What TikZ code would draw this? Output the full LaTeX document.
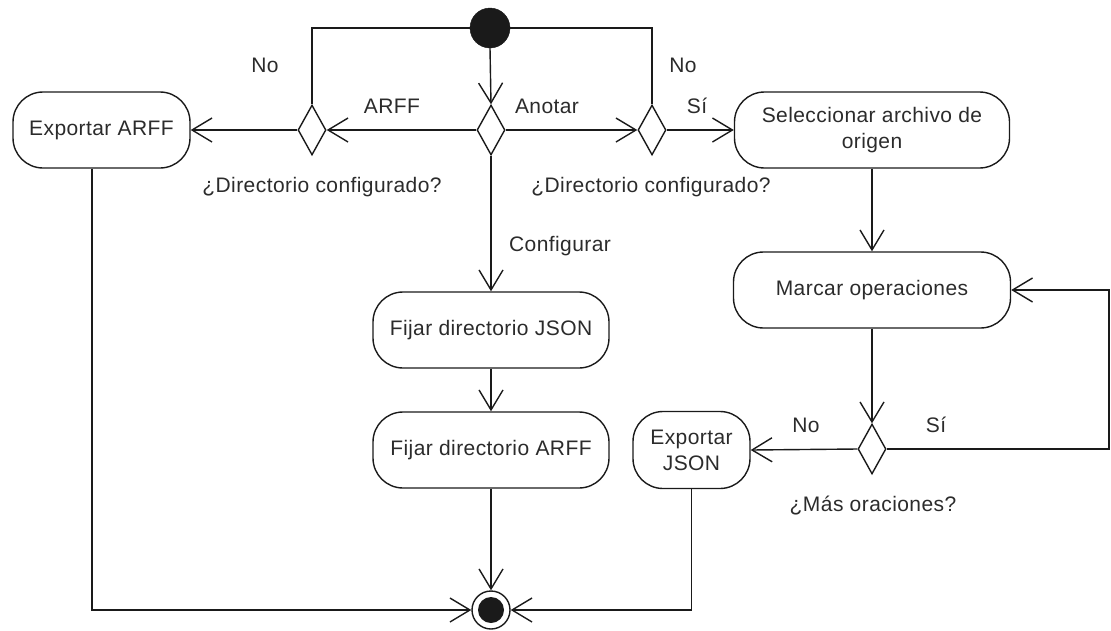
\documentclass[tikz,border=0pt]{standalone}
\usepackage{fontspec}
\setmainfont{Liberation Sans}
\newfontfamily\diagfont[LetterSpace=2]{Liberation Sans}
\usetikzlibrary{shapes.geometric,arrows.meta,calc}

\definecolor{ink}{HTML}{1A1A1A}
\definecolor{txt}{HTML}{2B2B2B}

\tikzset{
  flow/.style={draw=ink, line width=1.4pt},
  arr/.style={flow, -{Straight Barb[length=20pt,width=24pt,line width=1.4pt]}},
  action/.style={draw=ink, line width=1.4pt, rounded corners=30pt,
    rectangle, align=center, inner sep=0pt, text=txt,
    font=\diagfont\fontsize{21}{26}\selectfont},
  decision/.style={draw=ink, line width=1.4pt, diamond, inner sep=0pt,
    minimum width=28pt, minimum height=50pt, fill=white},
  lbl/.style={text=txt, inner sep=0pt, font=\diagfont\fontsize{21}{26}\selectfont},
}

\begin{document}
\begin{tikzpicture}[x=1pt, y=-1pt]
  \useasboundingbox (0,0) rectangle (1111,630);

  % initial and final states
  \node[circle, fill=ink, draw=ink, minimum size=40pt, inner sep=0pt] (start) at (490,28) {};
  \node[circle, draw=ink, line width=1.4pt, minimum size=38pt, inner sep=0pt] (stop) at (491,610) {};
  \fill[ink] (stop.center) circle (13pt);

  % decisions
  \node[decision] (dL) at (312,130) {};
  \node[decision] (dC) at (491,130) {};
  \node[decision] (dR) at (652,130) {};
  \node[decision] (dM) at (872,449) {};

  % actions
  \node[action, minimum width=177pt, minimum height=76pt] (exARFF) at (101.5,130) {Exportar ARFF};
  \node[action, minimum width=275pt, minimum height=76pt] (selec) at (872,130) {Seleccionar archivo de\\origen};
  \node[action, minimum width=277pt, minimum height=76pt] (marcar) at (872,290) {Marcar operaciones};
  \node[action, minimum width=236pt, minimum height=76pt] (fJSON) at (491,330) {Fijar directorio JSON};
  \node[action, minimum width=236pt, minimum height=76pt] (fARFF) at (491,450) {Fijar directorio ARFF};
  \node[action, minimum width=117pt, minimum height=77pt] (exJSON) at (691.5,450) {Exportar\\JSON};

  \coordinate (loopR) at (1109,449);

  % connectors
  \draw[flow] (start.west) -| (dL.north);
  \draw[flow] (start.east) -| (dR.north);
  \draw[arr] (start.south) -- (dC.north);
  \draw[arr] (dC.west) -- (dL.east);
  \draw[arr] (dL.west) -- (exARFF.east);
  \draw[arr] (dC.east) -- (dR.west);
  \draw[arr] (dR.east) -- (selec.west);
  \draw[arr] (dC.south) -- (fJSON.north);
  \draw[arr] (fJSON.south) -- (fARFF.north);
  \draw[arr] (fARFF.south) -- (stop.north);
  \draw[arr] (selec.south) -- (marcar.north);
  \draw[arr] (marcar.south) -- (dM.north);
  \draw[arr] (dM.west) -- (exJSON.east);
  \draw[arr] (dM.east) -- (loopR) |- (marcar.east);
  \draw[arr] ([xshift=-9.5pt]exARFF.south) |- (stop.west);
  \draw[arr] (exJSON.south) |- (stop.east);

  % labels
  \node[lbl] (tNoL) at (265,65) {No};
  \node[lbl] (tARFF) at (392,106) {ARFF};
  \node[lbl] (tAnotar) at (547,106) {Anotar};
  \node[lbl] (tNoR) at (683,65) {No};
  \node[lbl] (tSiR) at (697,106) {Sí};
  \node[lbl] (tDirL) at (322,187) {¿Directorio configurado?};
  \node[lbl] (tDirR) at (651,187) {¿Directorio configurado?};
  \node[lbl] (tConf) at (560,246) {Configurar};
  \node[lbl] (tNoM) at (806,425) {No};
  \node[lbl] (tSiM) at (936,425) {Sí};
  \node[lbl] (tMas) at (873,506) {¿Más oraciones?};
\end{tikzpicture}
\end{document}
